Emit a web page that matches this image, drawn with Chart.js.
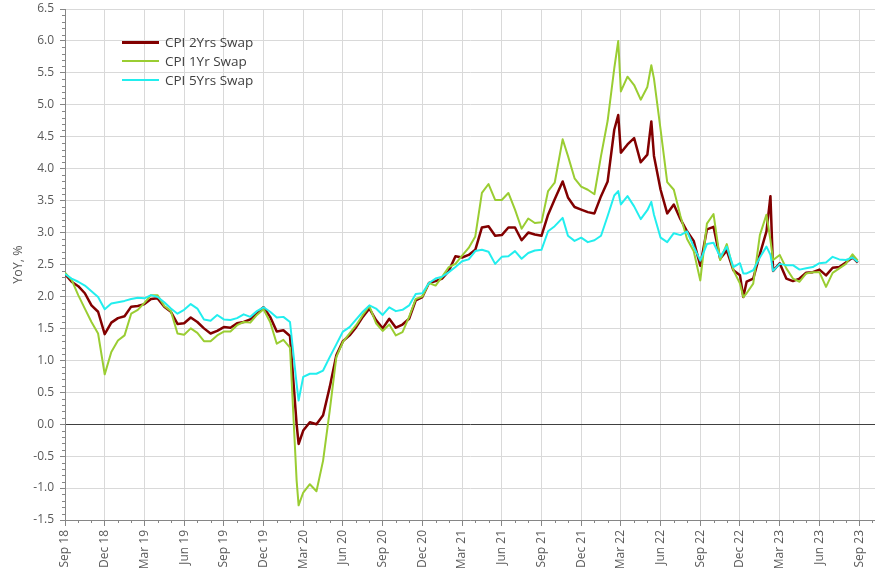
<!DOCTYPE html>
<html>
<head>
<meta charset="utf-8">
<script src="https://cdn.jsdelivr.net/npm/chart.js@4.4.0/dist/chart.umd.min.js"></script>
<style>
  body { margin: 0; background: #fff; }
  #wrap { position: relative; width: 875px; height: 576px; }
  #legend { position: absolute; left: 122px; top: 33px; font: 13.5px "Open Sans", sans-serif; color: #404040; }
  #legend div { height: 18.7px; display: flex; align-items: center; }
  #legend span.ln { display: inline-block; width: 37px; margin-right: 6px; }
</style>
</head>
<body>
<div id="wrap">
  <canvas id="chart" width="875" height="576"></canvas>
  <div id="legend">
    <div><span class="ln" style="border-top:3px solid #820000"></span>CPI 2Yrs Swap</div>
    <div><span class="ln" style="border-top:2px solid #9ACD32"></span>CPI 1Yr Swap</div>
    <div><span class="ln" style="border-top:2px solid #22EEEE"></span>CPI 5Yrs Swap</div>
  </div>
</div>
<script>
// months since Sep 2018, semi-monthly readings plus a few spike points
const months = [0,0.5,1,1.5,2,2.5,3,3.5,4,4.5,5,5.5,6,6.5,7,7.5,8,8.5,9,9.5,10,10.5,11,11.5,
  12,12.5,13,13.5,14,14.5,15,15.5,16,16.5,17,17.5,17.65,18,18.5,19,19.5,20,20.5,21,21.5,22,22.5,23,23.5,
  24,24.5,25,25.5,26,26.5,27,27.5,28,28.5,29,29.5,30,30.5,31,31.5,32,32.5,33,33.5,34,34.5,35,35.5,
  36,36.5,37,37.6,38,38.5,39,39.5,40,40.5,41,41.5,41.8,42,42.5,43,43.5,44,44.3,44.5,45,45.5,46,46.5,47,47.5,
  48,48.5,49,49.5,50,50.5,51,51.25,51.5,52,52.5,53,53.3,53.5,54,54.5,55,55.5,56,56.5,57,57.5,58,58.5,59,59.5,59.9];

const swap2y = [2.35,2.23,2.16,2.05,1.86,1.76,1.41,1.59,1.66,1.69,1.84,1.85,1.88,1.96,1.97,1.84,1.76,1.57,1.58,1.67,1.60,1.50,1.42,1.46,
  1.52,1.51,1.58,1.60,1.64,1.74,1.83,1.68,1.45,1.47,1.38,0.00,-0.31,-0.10,0.03,0.00,0.14,0.58,1.08,1.30,1.39,1.52,1.68,1.81,1.63,
  1.50,1.65,1.51,1.56,1.65,1.94,1.99,2.21,2.24,2.28,2.40,2.63,2.61,2.65,2.73,3.08,3.10,2.95,2.96,3.08,3.08,2.88,3.00,2.97,
  2.95,3.28,3.52,3.80,3.55,3.40,3.36,3.32,3.30,3.57,3.80,4.61,4.84,4.25,4.38,4.48,4.10,4.22,4.74,4.20,3.67,3.30,3.44,3.21,3.02,2.87,
  2.48,3.05,3.09,2.59,2.72,2.41,2.33,1.99,2.23,2.28,2.66,3.02,3.57,2.40,2.52,2.28,2.24,2.28,2.37,2.38,2.42,2.33,2.45,2.46,2.53,2.61,2.53];

const swap1y = [2.37,2.26,2.02,1.81,1.60,1.42,0.78,1.13,1.31,1.39,1.73,1.79,1.90,2.02,2.02,1.85,1.77,1.42,1.40,1.50,1.43,1.30,1.30,1.39,
  1.45,1.45,1.55,1.60,1.59,1.71,1.80,1.60,1.26,1.32,1.20,-0.88,-1.27,-1.07,-0.94,-1.05,-0.57,0.21,1.05,1.29,1.42,1.55,1.71,1.85,1.58,
  1.46,1.56,1.39,1.44,1.68,1.96,2.00,2.21,2.17,2.31,2.46,2.51,2.64,2.76,2.94,3.62,3.76,3.51,3.51,3.62,3.36,3.06,3.22,3.15,
  3.16,3.65,3.78,4.46,4.20,3.85,3.72,3.67,3.60,4.20,4.75,5.57,6.00,5.21,5.44,5.31,5.08,5.28,5.62,5.41,4.61,3.79,3.67,3.26,2.90,2.71,
  2.25,3.14,3.29,2.57,2.82,2.41,2.20,1.99,2.05,2.20,2.96,3.28,2.88,2.57,2.65,2.44,2.28,2.23,2.36,2.38,2.38,2.15,2.37,2.44,2.51,2.66,2.56];

const swap5y = [2.35,2.28,2.23,2.17,2.08,1.99,1.80,1.89,1.91,1.93,1.96,1.98,1.97,2.02,1.99,1.91,1.81,1.73,1.79,1.88,1.81,1.64,1.62,1.71,
  1.64,1.63,1.66,1.72,1.68,1.77,1.83,1.76,1.67,1.68,1.60,0.63,0.37,0.74,0.79,0.79,0.84,1.05,1.25,1.45,1.52,1.64,1.76,1.86,1.81,
  1.71,1.83,1.77,1.79,1.86,2.04,2.05,2.21,2.28,2.31,2.38,2.46,2.55,2.58,2.71,2.73,2.70,2.51,2.62,2.63,2.71,2.59,2.68,2.72,
  2.73,3.02,3.10,3.23,2.95,2.87,2.92,2.85,2.88,2.95,3.26,3.58,3.65,3.44,3.57,3.41,3.21,3.35,3.48,3.28,2.92,2.85,2.99,2.96,3.02,2.78,
  2.56,2.82,2.84,2.62,2.78,2.46,2.52,2.36,2.36,2.41,2.61,2.78,2.65,2.40,2.51,2.49,2.49,2.42,2.44,2.46,2.52,2.53,2.62,2.58,2.57,2.61,2.54];

const quarterLabels = ['Sep 18','Dec 18','Mar 19','Jun 19','Sep 19','Dec 19','Mar 20','Jun 20','Sep 20','Dec 20',
  'Mar 21','Jun 21','Sep 21','Dec 21','Mar 22','Jun 22','Sep 22','Dec 22','Mar 23','Jun 23','Sep 23'];

const toPoints = (vals) => vals.map((v, i) => ({ x: months[i], y: v }));

const axisColor = '#868686';
const gridColor = '#d9d9d9';
const tickFont = { family: '"Open Sans", sans-serif', size: 12 };

// short monthly / 0.1 ticks like the Excel minor tick marks
const minorTicks = {
  id: 'minorTicks',
  afterDraw(chart) {
    const { ctx, scales: { x, y } } = chart;
    ctx.save();
    ctx.strokeStyle = axisColor;
    ctx.lineWidth = 1;
    ctx.beginPath();
    for (let m = 0; m <= 61; m++) {
      if (m % 3 === 0) continue;
      const px = Math.round(x.getPixelForValue(m)) + 0.5;
      ctx.moveTo(px, y.bottom);
      ctx.lineTo(px, y.bottom + 3);
    }
    for (let k = -15; k <= 65; k++) {
      if (k % 5 === 0) continue;
      const py = Math.round(y.getPixelForValue(k / 10)) + 0.5;
      ctx.moveTo(x.left - 3, py);
      ctx.lineTo(x.left, py);
    }
    ctx.stroke();
    ctx.restore();
  },
};

new Chart(document.getElementById('chart'), {
  type: 'line',
  plugins: [minorTicks],
  data: {
    datasets: [
      { label: 'CPI 2Yrs Swap', data: toPoints(swap2y), borderColor: '#820000', borderWidth: 2.5, order: 3 },
      { label: 'CPI 1Yr Swap', data: toPoints(swap1y), borderColor: '#9ACD32', borderWidth: 2, order: 2 },
      { label: 'CPI 5Yrs Swap', data: toPoints(swap5y), borderColor: '#22EEEE', borderWidth: 2, order: 1 },
    ],
  },
  options: {
    responsive: false,
    animation: false,
    elements: { point: { radius: 0 }, line: { tension: 0, borderJoinStyle: 'round' } },
    layout: { padding: { top: 9, right: 0, left: 0, bottom: 0 } },
    plugins: { legend: { display: false }, tooltip: { enabled: false } },
    scales: {
      x: {
        type: 'linear',
        min: 0,
        max: 61.2,
        afterFit: (s) => { s.height = 56; s.paddingLeft = 0; s.paddingRight = 0; },
        border: { color: axisColor },
        grid: {
          color: (c) => (Math.round(c.tick.value) % 3 === 0 ? gridColor : 'rgba(0,0,0,0)'),
          tickColor: (c) => (Math.round(c.tick.value) % 3 === 0 ? axisColor : 'rgba(0,0,0,0)'),
          tickLength: 6,
        },
        ticks: {
          stepSize: 1,
          autoSkip: false,
          includeBounds: false,
          minRotation: 90,
          maxRotation: 90,
          padding: 4,
          color: '#595959',
          font: tickFont,
          callback: (v) => {
            const m = Math.round(v);
            return m % 3 === 0 ? quarterLabels[m / 3] : '';
          },
        },
      },
      y: {
        min: -1.5,
        max: 6.5,
        afterFit: (s) => { s.width = 65; s.paddingTop = 0; s.paddingBottom = 0; },
        border: { color: axisColor },
        grid: {
          color: (c) => (Math.abs(c.tick.value) < 1e-9 ? '#404040' : gridColor),
          tickColor: axisColor,
          tickLength: 5,
        },
        ticks: {
          stepSize: 0.5,
          padding: 6,
          color: '#595959',
          font: tickFont,
          callback: (v) => v.toFixed(1),
        },
        title: {
          display: true,
          text: 'YoY, %',
          color: '#595959',
          padding: { top: 11, bottom: 0 },
          font: { family: '"Open Sans", sans-serif', size: 12.5 },
        },
      },
    },
  },
});
</script>
</body>
</html>
